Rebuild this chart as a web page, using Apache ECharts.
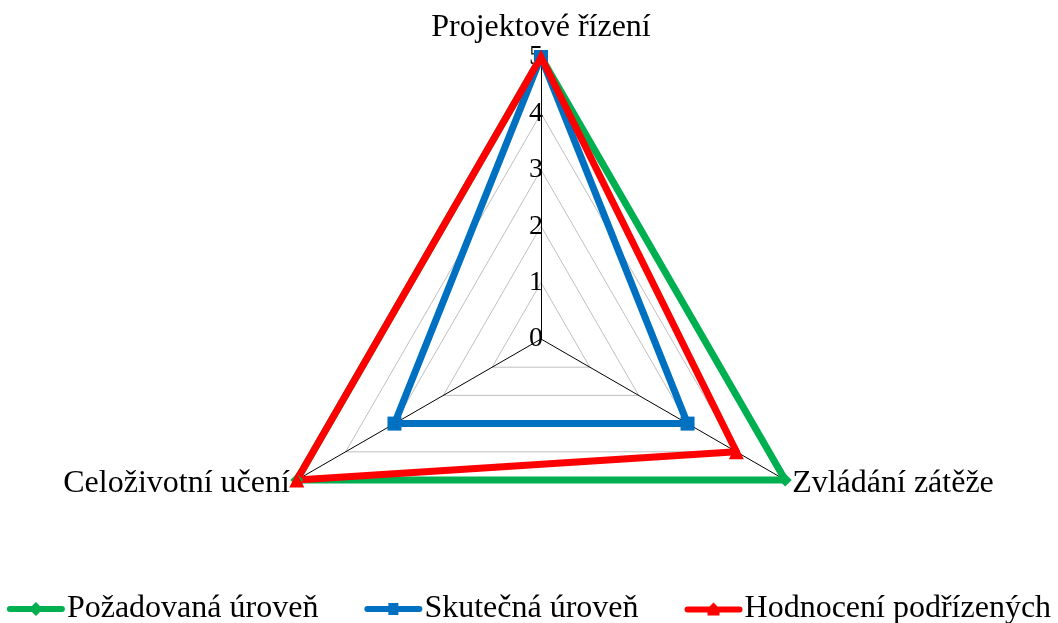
<!DOCTYPE html>
<html>
<head>
<meta charset="utf-8">
<script src="https://cdn.jsdelivr.net/npm/echarts@6/dist/echarts.min.js"></script>
<style>
  html, body { margin: 0; padding: 0; background: #fff; }
  #chart { width: 1058px; height: 623px; }
</style>
</head>
<body>
<div id="chart"></div>
<script>
// indicators (ECharts radar runs counter-clockwise from the top)
const indicators = ['Projektové řízení', 'Celoživotní učení', 'Zvládání zátěže'];
const maxValue = 5;
const seriesNames = ['Požadovaná úroveň', 'Skutečná úroveň', 'Hodnocení podřízených'];
const pozadovana = [5, 5, 5];
const skutecna = [5, 3, 3];
const hodnoceni = [5, 5, 4];

const colors = ['#00B050', '#0070C0', '#FF0000'];
const font = 'Liberation Serif';

// legend icons: line with the marker in the middle
const icons = [
  'path://M3,4 L25,4 L29,0 L33,4 L55,4 A3,3 0 0 1 55,10 L33,10 L29,14 L25,10 L3,10 A3,3 0 0 1 3,4 Z',
  'path://M3,4 L24,4 L24,1 L34,1 L34,4 L55,4 A3,3 0 0 1 55,10 L34,10 L34,13 L24,13 L24,10 L3,10 A3,3 0 0 1 3,4 Z',
  'path://M3,4 L25,4 L29,0 L33,4 L55,4 A3,3 0 0 1 55,10 L35,10 L35,13 L23,13 L23,10 L3,10 A3,3 0 0 1 3,4 Z'
];

const myChart = echarts.init(document.getElementById('chart'));

myChart.setOption({
  animation: false,
  textStyle: { fontFamily: font },
  legend: {
    bottom: -2,
    left: 'center',
    padding: 0,
    itemWidth: 58,
    itemHeight: 14,
    itemGap: 46,
    textStyle: { fontFamily: font, fontSize: 32, color: '#000', padding: [0, 0, 0, -3] },
    data: seriesNames.map((n, i) => ({ name: n, icon: icons[i] }))
  },
  radar: {
    center: [541, 339],
    radius: 282,
    startAngle: 90,
    splitNumber: 5,
    shape: 'polygon',
    nameGap: 8,
    axisName: { color: '#000', fontFamily: font, fontSize: 32, lineHeight: 26 },
    indicator: indicators.map((name, i) => {
      const ind = { name: name, min: 0, max: maxValue };
      if (i === 0) {
        ind.axisLabel = {
          show: true, color: '#000', fontFamily: font, fontSize: 28, margin: -2
        };
      }
      return ind;
    }),
    axisLine: { lineStyle: { color: '#000', width: 1 } },
    axisTick: { show: false },
    axisLabel: { show: false },
    splitLine: { lineStyle: { color: '#BFBFBF', width: 1 } },
    splitArea: { show: false }
  },
  series: [{
    type: 'radar',
    data: [
      {
        name: seriesNames[0], value: pozadovana,
        symbol: 'diamond', symbolSize: 13,
        lineStyle: { color: colors[0], width: 7 },
        itemStyle: { color: colors[0] }
      },
      {
        name: seriesNames[1], value: skutecna,
        symbol: 'rect', symbolSize: 14,
        lineStyle: { color: colors[1], width: 7 },
        itemStyle: { color: colors[1] }
      },
      {
        name: seriesNames[2], value: hodnoceni,
        symbol: 'triangle', symbolSize: 15,
        lineStyle: { color: colors[2], width: 7 },
        itemStyle: { color: colors[2] }
      }
    ]
  }]
});
</script>
</body>
</html>
